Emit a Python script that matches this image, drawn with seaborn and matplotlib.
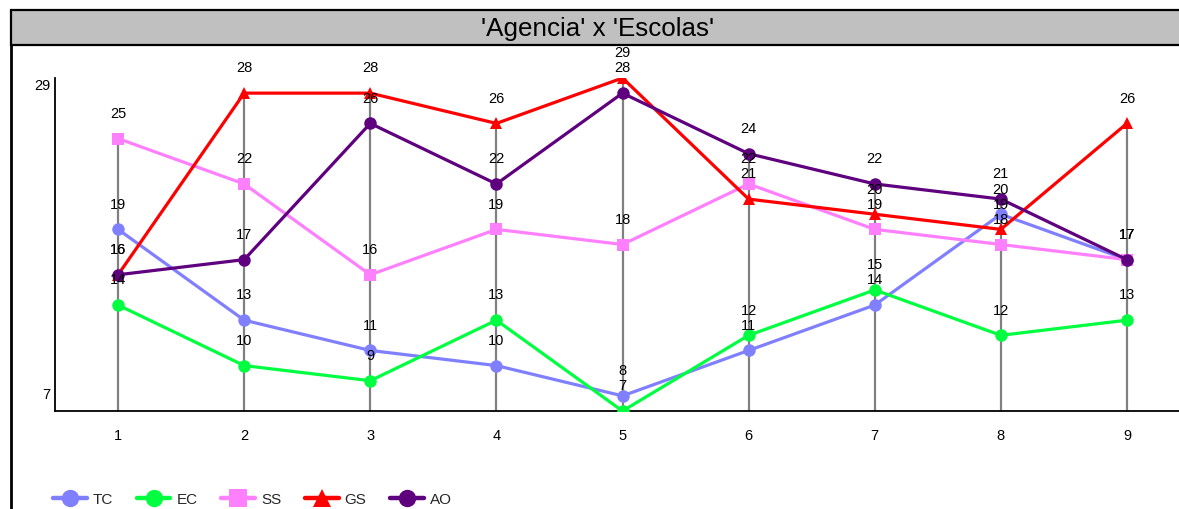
import numpy as np
import pandas as pd
import matplotlib
matplotlib.use('Agg')
import matplotlib.pyplot as plt
import matplotlib.transforms as mtransforms
from matplotlib.patches import Rectangle
from matplotlib.lines import Line2D
import seaborn as sns

# ---------------- data ----------------
categories = [1, 2, 3, 4, 5, 6, 7, 8, 9]
tc = [19, 13, 11, 10, 8, 11, 14, 20, 17]
ec = [14, 10, 9, 13, 7, 12, 15, 12, 13]
ss = [25, 22, 16, 19, 18, 22, 19, 18, 17]
gs = [16, 28, 28, 26, 29, 21, 20, 19, 26]
ao = [16, 17, 26, 22, 28, 24, 22, 21, 17]
series_names = ['TC', 'EC', 'SS', 'GS', 'AO']
series_values = [tc, ec, ss, gs, ao]
y_ticks = [7, 29]
title = "'Agencia' x 'Escolas'"

colors = {'TC': '#8080FF', 'EC': '#00FF40', 'SS': '#FF80FF', 'GS': '#FF0000', 'AO': '#5F007F'}
markers = {'TC': 'o', 'EC': 'o', 'SS': 's', 'GS': '^', 'AO': 'o'}

df = pd.DataFrame({
    'x': np.tile(categories, len(series_names)),
    'value': np.concatenate(series_values),
    'serie': np.repeat(series_names, len(categories)),
})

sns.set_theme(style='white')
plt.rcParams['font.family'] = ['Liberation Sans', 'DejaVu Sans']

W, H = 1179, 510
fig = plt.figure(figsize=(W / 100, H / 100), dpi=100)

# outer frame and title bar
fig.patches.append(Rectangle((11 / W, -0.1), 1.2, (H - 11) / H + 0.1,
                             transform=fig.transFigure, fill=False,
                             ec='black', lw=2, zorder=0))
fig.patches.append(Rectangle((11 / W, (H - 46) / H), 1.2, 35 / H,
                             transform=fig.transFigure, fc='#C0C0C0',
                             ec='black', lw=1.6, zorder=0))
fig.text(598 / W, (H - 29) / H, title, ha='center', va='center',
         fontsize=18.7, color='black')

ax = fig.add_axes([55 / W, 98 / H, 1135 / W, 333 / H])
ax.patch.set_alpha(0)

# grey drop lines
maxvals = df.groupby('x')['value'].max().reindex(categories).values
ax.vlines(categories, y_ticks[0], maxvals, color='#808080', lw=1.6, zorder=1)

sns.lineplot(data=df, x='x', y='value', hue='serie', style='serie',
             hue_order=series_names, style_order=series_names,
             palette=colors, markers=markers, dashes=False,
             markersize=9, linewidth=2.3, markeredgewidth=0,
             legend=False, ax=ax, zorder=3)

for name, vals in zip(series_names, series_values):
    for x, v in zip(categories, vals):
        ax.annotate(str(v), (x, v), xytext=(0, 18.5), textcoords='offset points',
                    ha='center', va='center', fontsize=10.5, color='black',
                    zorder=10, annotation_clip=False)

ax.set_xlim(0.5, 9.5)
ax.set_ylim(y_ticks[0], y_ticks[1])
ax.set_xticks(categories)
ax.set_xticklabels([str(c) for c in categories])
ax.set_yticks(y_ticks)
ax.set_yticklabels([str(t) for t in y_ticks])
ax.tick_params(axis='x', length=0, pad=12.5, labelsize=10.5, colors='black')
ax.tick_params(axis='y', length=0, pad=3, labelsize=10.5, colors='black')
ax.set_xlabel('')
ax.set_ylabel('')
for lbl, va, dy in zip(ax.get_yticklabels(), ['bottom', 'top'], [7, 0]):
    lbl.set_va(va)
    lbl.set_transform(lbl.get_transform() +
                      mtransforms.ScaledTranslation(0, dy / 72, fig.dpi_scale_trans))

for s in ['top', 'right']:
    ax.spines[s].set_visible(False)
for s in ['left', 'bottom']:
    ax.spines[s].set_color('black')
    ax.spines[s].set_linewidth(1.3)
ax.grid(False)

handles = [Line2D([0], [0], color=colors[n], marker=markers[n], lw=3.2,
                  markersize=12.5, markeredgewidth=0) for n in series_names]
fig.legend(handles, series_names, loc='center left',
           bbox_to_anchor=(53 / W, 10 / H), ncol=5, frameon=False,
           fontsize=11, handlelength=2.2, handletextpad=0.4,
           columnspacing=1.55, borderpad=0, borderaxespad=0)

fig.savefig('out.png', dpi=100)
